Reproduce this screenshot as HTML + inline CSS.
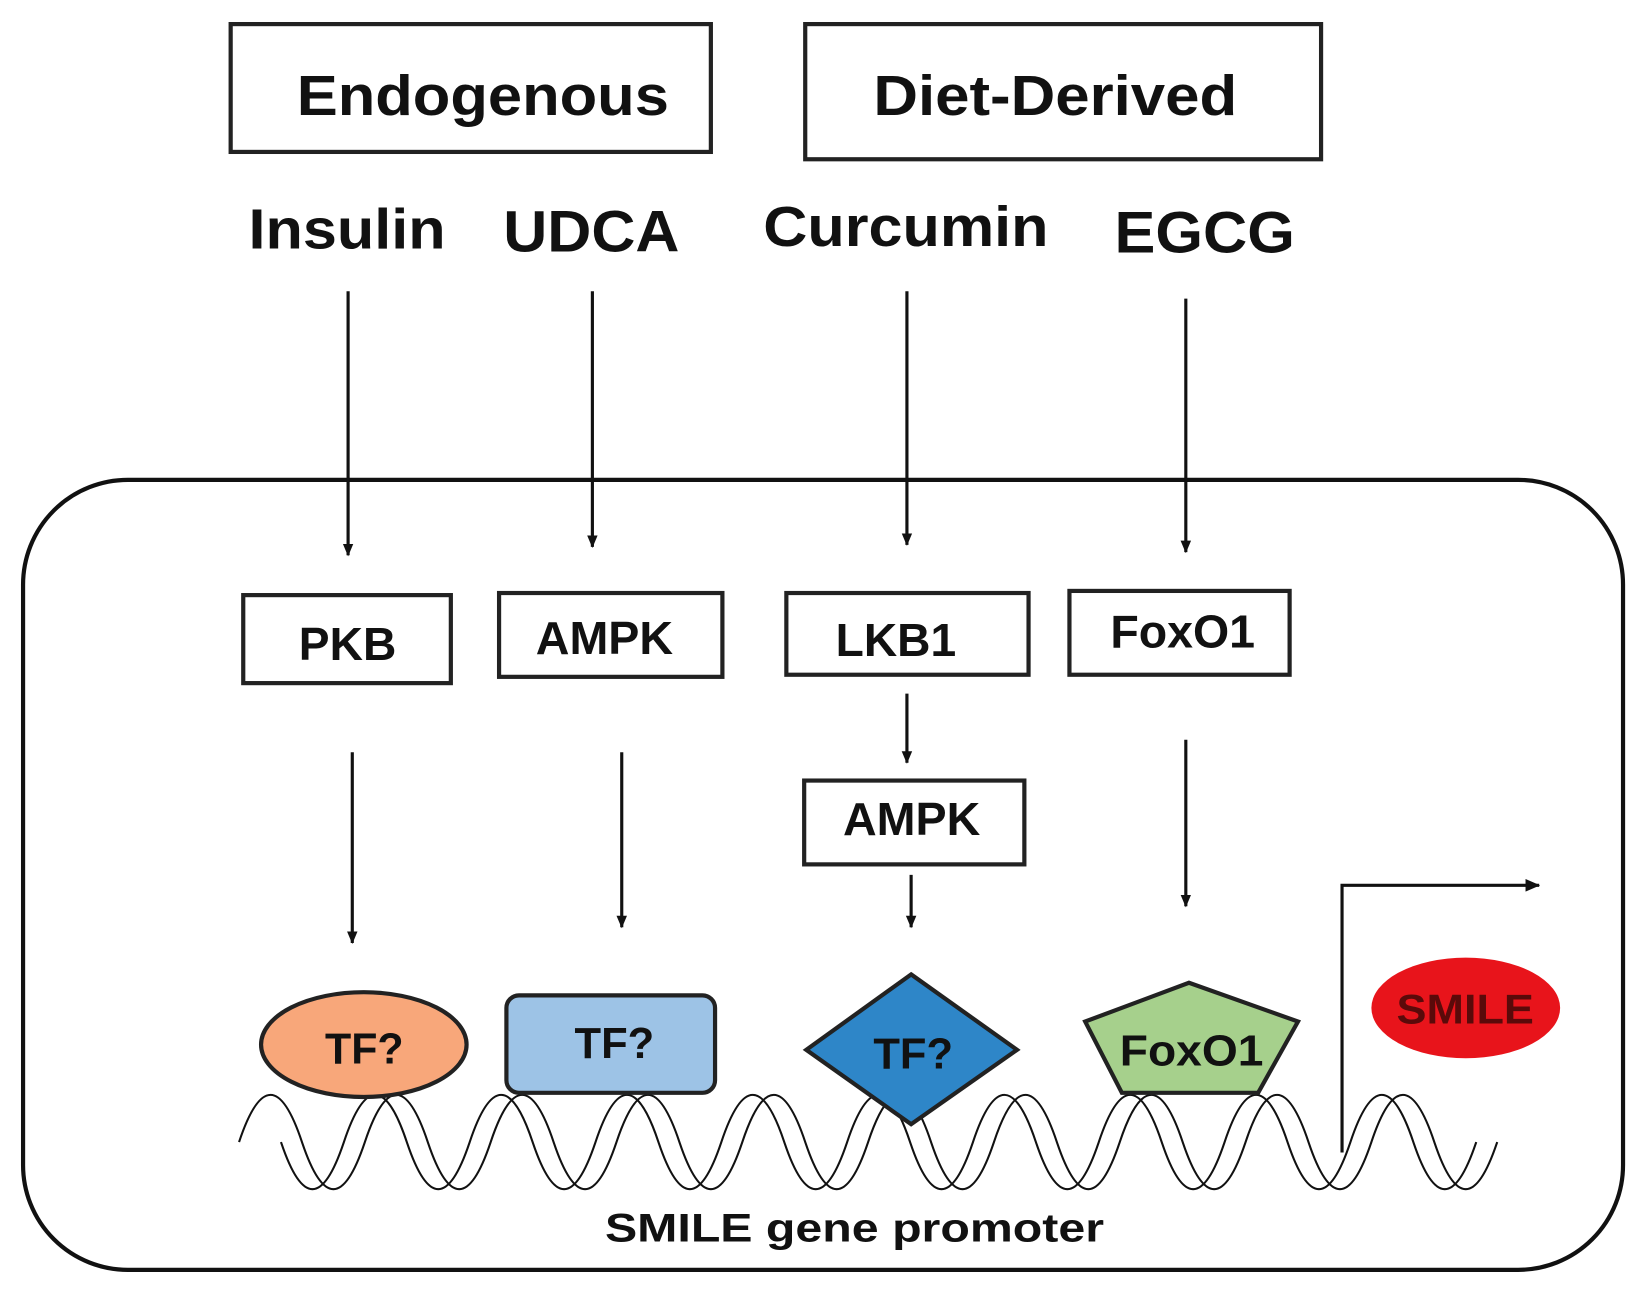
<!DOCTYPE html>
<html><head><meta charset="utf-8"><style>
html,body{margin:0;padding:0;background:#fff;}
svg{display:block;}
text{font-family:"Liberation Sans",Arial,sans-serif;font-weight:bold;fill:#111;}
</style></head><body>
<svg width="1644" height="1295" viewBox="0 0 1568 1236" preserveAspectRatio="none" xmlns="http://www.w3.org/2000/svg">
<defs>
<marker id="ah" markerWidth="12" markerHeight="12" refX="11" refY="6" orient="auto" markerUnits="userSpaceOnUse">
<path d="M0,1 L12,6 L0,11 Z" fill="#111"/>
</marker>
<marker id="ar" markerWidth="14" markerHeight="12" refX="13" refY="6" orient="auto" markerUnits="userSpaceOnUse">
<path d="M0,0 L14,6 L0,12 Z" fill="#111"/>
</marker>
</defs>
<rect width="1568" height="1236" fill="#fff"/>
<rect x="220" y="23" width="458" height="122" fill="none" stroke="#222" stroke-width="4"/>
<text x="283" y="110" font-size="54" textLength="355" lengthAdjust="spacingAndGlyphs">Endogenous</text>
<rect x="768" y="23" width="492" height="129" fill="none" stroke="#222" stroke-width="4"/>
<text x="833" y="110" font-size="54" textLength="347" lengthAdjust="spacingAndGlyphs">Diet-Derived</text>
<text x="237" y="237" font-size="54" textLength="188" lengthAdjust="spacingAndGlyphs">Insulin</text>
<text x="480" y="240" font-size="56" textLength="168" lengthAdjust="spacingAndGlyphs">UDCA</text>
<text x="728" y="235" font-size="54" textLength="272" lengthAdjust="spacingAndGlyphs">Curcumin</text>
<text x="1063" y="241" font-size="56" textLength="172" lengthAdjust="spacingAndGlyphs">EGCG</text>
<rect x="22" y="458" width="1526" height="754" rx="100" ry="100" fill="none" stroke="#111" stroke-width="4"/>
<g stroke="#111" stroke-width="3" fill="none">
<line x1="332" y1="278" x2="332" y2="530" marker-end="url(#ah)"/>
<line x1="565" y1="278" x2="565" y2="522" marker-end="url(#ah)"/>
<line x1="865" y1="278" x2="865" y2="520" marker-end="url(#ah)"/>
<line x1="1131" y1="285" x2="1131" y2="527" marker-end="url(#ah)"/>
<line x1="336" y1="718" x2="336" y2="900" marker-end="url(#ah)"/>
<line x1="593" y1="718" x2="593" y2="885" marker-end="url(#ah)"/>
<line x1="865" y1="662" x2="865" y2="728" marker-end="url(#ah)"/>
<line x1="869" y1="835" x2="869" y2="885" marker-end="url(#ah)"/>
<line x1="1131" y1="706" x2="1131" y2="865" marker-end="url(#ah)"/>
</g>
<g fill="#fff" stroke="#222" stroke-width="4">
<rect x="232" y="568" width="198" height="84"/>
<rect x="476" y="566" width="213" height="80"/>
<rect x="750" y="566" width="231" height="78"/>
<rect x="1020" y="564" width="210" height="80"/>
<rect x="767" y="745" width="210" height="80"/>
</g>
<text x="285" y="630" font-size="44" textLength="93" lengthAdjust="spacingAndGlyphs">PKB</text>
<text x="511" y="624" font-size="44" textLength="131" lengthAdjust="spacingAndGlyphs">AMPK</text>
<text x="797" y="626" font-size="44" textLength="115" lengthAdjust="spacingAndGlyphs">LKB1</text>
<text x="1059" y="618" font-size="44" textLength="138" lengthAdjust="spacingAndGlyphs">FoxO1</text>
<text x="804" y="797" font-size="44" textLength="131" lengthAdjust="spacingAndGlyphs">AMPK</text>
<g stroke="#111" stroke-width="2" fill="none">
<path d="M228,1090 q30,-90 60,0 t60,0 t60,0 t60,0 t60,0 t60,0 t60,0 t60,0 t60,0 t60,0 t60,0 t60,0 t60,0 t60,0 t60,0 t60,0 t60,0 t60,0 t60,0 t60,0"/>
<path d="M268,1090 q30,90 60,0 t60,0 t60,0 t60,0 t60,0 t60,0 t60,0 t60,0 t60,0 t60,0 t60,0 t60,0 t60,0 t60,0 t60,0 t60,0 t60,0 t60,0 t60,0"/>
</g>
<path d="M1280,1100 L1280,845 L1468,845" stroke="#111" stroke-width="3" fill="none" marker-end="url(#ar)"/>
<ellipse cx="347" cy="997" rx="98" ry="50" fill="#f8a77a" stroke="#222" stroke-width="4"/>
<text x="310" y="1015" font-size="42" textLength="75" lengthAdjust="spacingAndGlyphs">TF?</text>
<rect x="483" y="950" width="199" height="93" rx="12" fill="#9dc3e6" stroke="#222" stroke-width="4"/>
<text x="548" y="1010" font-size="42" textLength="76" lengthAdjust="spacingAndGlyphs">TF?</text>
<polygon points="869,930 970,1002 869,1073 769,1002" fill="#2e86c8" stroke="#222" stroke-width="4"/>
<text x="833" y="1020" font-size="42" textLength="76" lengthAdjust="spacingAndGlyphs">TF?</text>
<polygon points="1134,938 1238,975 1200,1043 1070,1043 1035,975" fill="#a6d08c" stroke="#222" stroke-width="4"/>
<text x="1068" y="1017" font-size="42" textLength="137" lengthAdjust="spacingAndGlyphs">FoxO1</text>
<ellipse cx="1398" cy="962" rx="90" ry="48" fill="#e8141b"/>
<text x="1332" y="977" font-size="40" textLength="131" lengthAdjust="spacingAndGlyphs" style="fill:#5a0a0a">SMILE</text>
<text x="577" y="1185" font-size="38" textLength="476" lengthAdjust="spacingAndGlyphs">SMILE gene promoter</text>
</svg>
</body></html>
